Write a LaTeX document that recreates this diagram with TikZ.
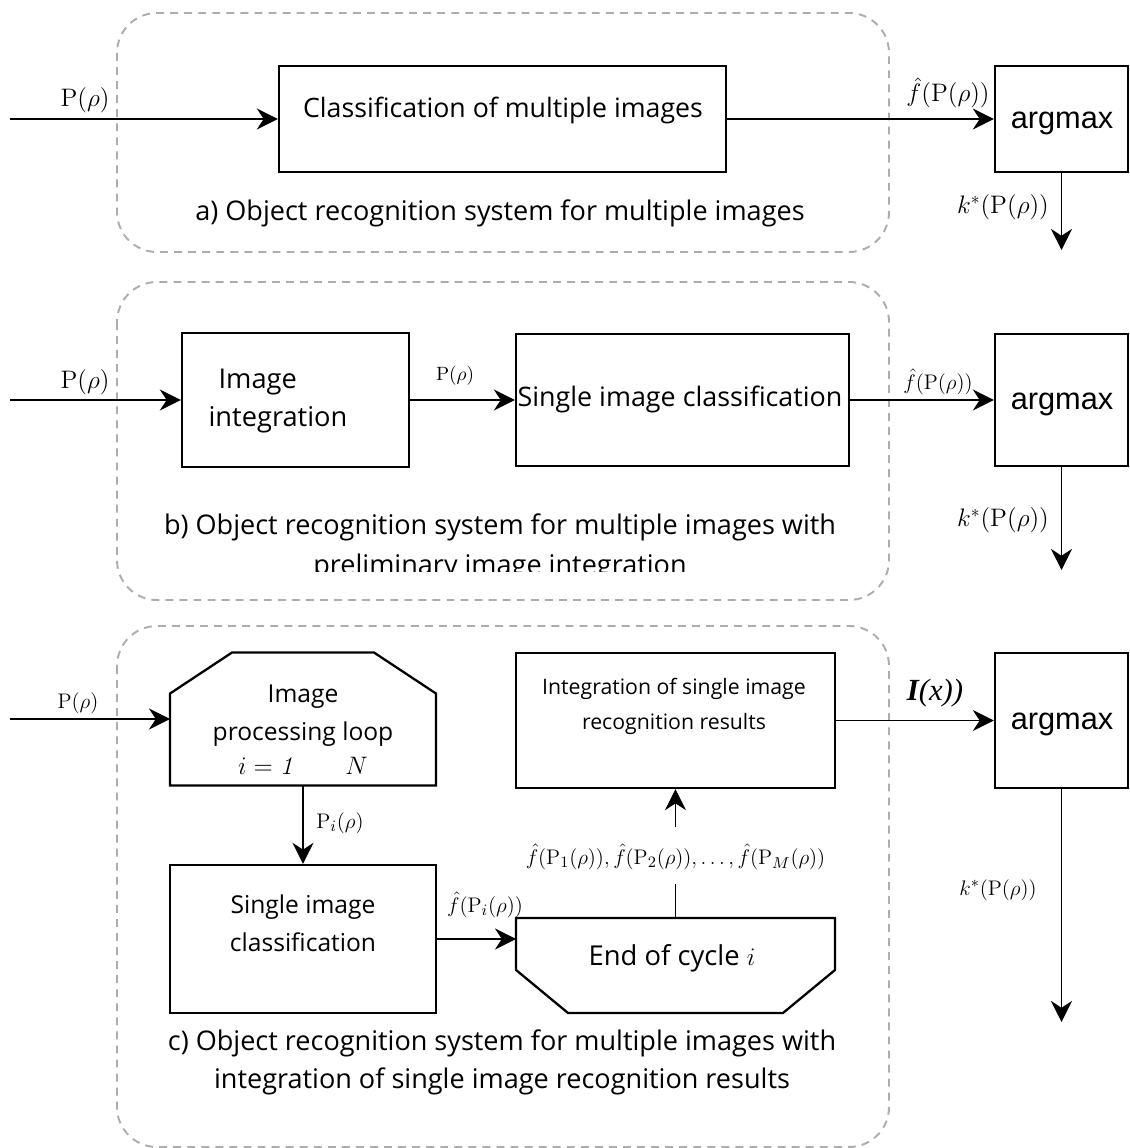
\documentclass[tikz,border=0pt]{standalone}
\usepackage[no-math]{fontspec}
\setmainfont{Open Sans}
\newfontfamily\argfont{Liberation Sans}
\newfontfamily\seriffont{Liberation Serif}
\usetikzlibrary{arrows.meta}
\begin{document}
\begin{tikzpicture}[x=0.02cm,y=-0.02cm,
  frame/.style={draw=black!32, line width=1.1pt, dash pattern=on 4.5pt off 3.5pt, rounded corners=0.8cm},
  box/.style={draw, line width=1.3pt, inner sep=0pt},
  hidden/.style={inner sep=0pt, outer sep=0pt},
  argbox/.style={draw, line width=1.3pt, inner sep=0pt, minimum width=2.66cm},
  argtxt/.style={inner sep=0pt, font=\argfont\fontsize{17.5}{20}\selectfont},
  txt/.style={align=center, inner sep=0pt, font=\fontsize{14}{21.5}\selectfont},
  captxt/.style={align=center, inner sep=0pt, font=\fontsize{15.4}{21.5}\selectfont},
  arr/.style={line width=1.1pt, -{Stealth[length=12pt,width=12pt]}},
  ln/.style={line width=1.1pt},
  lbl/.style={inner sep=1pt, font=\fontsize{14}{16}\selectfont},
  slbl/.style={inner sep=1pt, font=\fontsize{12.5}{14}\selectfont}]
\useasboundingbox (0,0) rectangle (1129,1148);

% dashed frames of the three variants
\draw[frame] (117,13) rectangle (889,252);
\draw[frame] (117,282) rectangle (889,600);
\draw[frame] (117,626) rectangle (889,1147);

% ---------- a) ----------
\coordinate (inA) at (10,119);
\node[box, minimum width=8.94cm, minimum height=2.12cm] (clsA) at (502.5,119) {};
\node[txt, font=\fontsize{15.2}{20}\selectfont] (clsAt) at (503,110) {Classification of multiple images};
\node[argbox, minimum height=2.12cm] (argA) at (1061.5,119) {};
\node[argtxt] (argAt) at (1062,123) {argmax};
\coordinate (outA) at (1061.5,250);
\draw[arr] (inA) -- (clsA);
\draw[arr] (clsA) -- (argA);
\draw[arr] (argA.south) -- (outA);
\node[lbl] (lA1) at (85,100) {$\mathrm{P}(\rho)$};
\node[lbl] (lA2) at (948,93) {$\hat{f}\bigl(\mathrm{P}(\rho)\bigr)$};
\node[lbl] (lA3) at (1003,207) {$k^{*}\bigl(\mathrm{P}(\rho)\bigr)$};
\node[captxt] (capA) at (500,213) {a) Object recognition system for multiple images};

% ---------- b) ----------
\coordinate (inB) at (10,400);
\node[box, minimum width=4.54cm, minimum height=2.68cm] (intB) at (295.5,400) {};
\node[txt, align=left, font=\fontsize{15.5}{21.5}\selectfont] (intBt) at (278,401) {\hspace*{0.2cm}Image\\integration};
\node[box, minimum width=6.66cm, minimum height=2.64cm] (sicB) at (682.5,400) {};
\node[txt, font=\fontsize{15.3}{20}\selectfont] (sicBt) at (680,399) {Single image classification};
\node[argbox, minimum height=2.64cm] (argB) at (1061.5,400) {};
\node[argtxt] (argBt) at (1062,404) {argmax};
\coordinate (outB) at (1061.5,570);
\draw[arr] (inB) -- (intB);
\draw[arr] (intB) -- (sicB);
\draw[arr] (sicB) -- (argB);
\draw[arr] (argB.south) -- (outB);
\node[lbl] (lB1) at (85,382) {$\mathrm{P}(\rho)$};
\node[inner sep=1pt, font=\fontsize{10.5}{12}\selectfont] (lB2) at (455,376) {$\mathrm{P}(\rho)$};
\node[slbl] (lB3) at (938,382) {$\hat{f}\bigl(\mathrm{P}(\rho)\bigr)$};
\node[lbl] (lB4) at (1003,520) {$k^{*}\bigl(\mathrm{P}(\rho)\bigr)$};
\node[captxt] (capB1) at (500,527) {b) Object recognition system for multiple images with};
\begin{scope}
  \clip (117,540) rectangle (889,571);
  \node[captxt, anchor=base] (capB2) at (500,574) {preliminary image integration};
\end{scope}

% ---------- c) ----------
\coordinate (inC) at (10,719);
\node[hidden, minimum width=5.32cm, minimum height=2.66cm] (loop) at (303,719) {};
\draw[line width=1.3pt] (loop.south west) -- (loop.south east)
  -- ([yshift=-0.82cm]loop.north east) -- ([xshift=-1.24cm]loop.north east)
  -- ([xshift=1.24cm]loop.north west) -- ([yshift=-0.82cm]loop.north west) -- cycle;
\node[txt] (loopt) at (303,729.5) {Image\\processing loop\\[-2pt]$i=\mathit{1}\qquad N$};

\node[box, minimum width=5.32cm, minimum height=2.96cm] (sicC) at (303,939) {};
\node[txt] (sicCt) at (303,923.5) {Single image\\classification};

\node[hidden, minimum width=6.38cm, minimum height=1.9cm] (eoc) at (675.5,965.5) {};
\draw[line width=1.3pt] (eoc.north west) -- (eoc.north east)
  -- ([yshift=0.86cm]eoc.south east) -- ([xshift=-1.04cm]eoc.south east)
  -- ([xshift=1.04cm]eoc.south west) -- ([yshift=0.86cm]eoc.south west) -- cycle;
\node[txt, font=\fontsize{15.6}{20}\selectfont] (eoct) at (672,958) {End of cycle $i$};

\node[box, minimum width=6.38cm, minimum height=2.7cm] (integ) at (675.5,720.5) {};
\node[txt, font=\fontsize{12.1}{19.8}\selectfont] (integt) at (674,706.5) {Integration of single image\\recognition results};

\node[argbox, minimum height=2.7cm] (argC) at (1061.5,720.5) {};
\node[argtxt] (argCt) at (1062,724) {argmax};
\coordinate (outC) at (1061.5,1022);

\node[slbl] (flist) at (675.5,857)
  {$\hat{f}\bigl(\mathrm{P}_1(\rho)\bigr),\hat{f}\bigl(\mathrm{P}_2(\rho)\bigr),\ldots,\hat{f}\bigl(\mathrm{P}_M(\rho)\bigr)$};

\draw[arr] (inC) -- (loop.west);
\draw[arr] (loop.south) -- (sicC.north);
\draw[arr] (sicC.east) -- (sicC.east -| eoc.west);
\draw[ln] (eoc.north) -- ([yshift=-0.25cm]flist.south);
\draw[arr] ([yshift=0.3cm]flist.north) -- (integ.south);
\draw[arr] (integ) -- (argC);
\draw[arr] (argC.south) -- (outC);

\node[slbl] (lC1) at (78,703) {$\mathrm{P}(\rho)$};
\node[lbl, font=\fontsize{13}{14}\selectfont] (lC2) at (340,823) {$\mathrm{P}_{i}(\rho)$};
\node[slbl] (lC3) at (485,905) {$\hat{f}\bigl(\mathrm{P}_{i}(\rho)\bigr)$};
\node[inner sep=1pt, font=\seriffont\itshape\fontsize{17.5}{20}\selectfont] (lC4) at (935,693) {\textbf{I}(x))};
\node[slbl] (lC5) at (998,890) {$k^{*}\bigl(\mathrm{P}(\rho)\bigr)$};

\node[captxt] (capC) at (502,1062) {c) Object recognition system for multiple images with\\integration of single image recognition results};
\end{tikzpicture}
\end{document}
